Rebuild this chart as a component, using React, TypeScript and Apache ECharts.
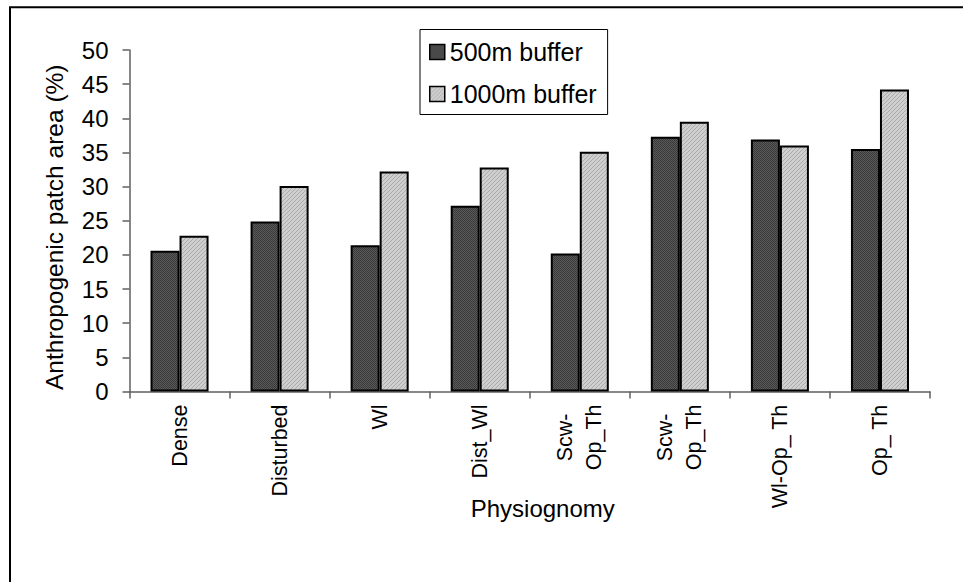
import React, { useEffect, useRef } from 'react';
import * as echarts from 'echarts';

const categories = ['Dense', 'Disturbed', 'Wl', 'Dist_Wl', 'Scw-\nOp_Th', 'Scw-\nOp_Th', 'Wl-Op_ Th', 'Op_ Th'];
const buffer500 = [20.6, 24.9, 21.4, 27.2, 20.2, 37.3, 36.9, 35.5];
const buffer1000 = [22.8, 30.1, 32.2, 32.8, 35.1, 39.5, 36.0, 44.2];
const seriesNames = ['500m buffer', '1000m buffer'];
const yMin = 0;
const yMax = 50;
const yInterval = 5;
const xTitle = 'Physiognomy';
const yTitle = 'Anthropogenic patch area (%)';

const FONT = '"Liberation Sans", Arial, sans-serif';

function makePattern(kind: 'dark' | 'light') {
  const c = document.createElement('canvas');
  if (kind === 'dark') {
    c.width = 2;
    c.height = 2;
    const ctx = c.getContext('2d')!;
    ctx.fillStyle = '#5a5a5a';
    ctx.fillRect(0, 0, 2, 2);
    ctx.fillStyle = '#393939';
    ctx.fillRect(0, 0, 1, 1);
    ctx.fillRect(1, 1, 1, 1);
  } else {
    c.width = 4;
    c.height = 4;
    const ctx = c.getContext('2d')!;
    ctx.fillStyle = '#cfcfcf';
    ctx.fillRect(0, 0, 4, 4);
    ctx.fillStyle = '#ababab';
    for (let i = 0; i < 4; i++) ctx.fillRect(i, 3 - i, 1, 1);
  }
  return { image: c, repeat: 'repeat' } as any;
}

export default function App() {
  const ref = useRef<HTMLDivElement>(null);

  useEffect(() => {
    if (!ref.current) return;
    const chart = echarts.init(ref.current, undefined, { renderer: 'svg' });
    const dark = makePattern('dark');
    const light = makePattern('light');
    const axisColor = '#5f5f5f';

    chart.setOption({
      animation: false,
      backgroundColor: '#ffffff',
      grid: { left: 129.5, right: 33, top: 50, bottom: 190.5, containLabel: false },
      legend: {
        orient: 'vertical',
        left: 420,
        top: 29.5,
        padding: [10, 11, 8, 9],
        itemWidth: 15,
        itemHeight: 15,
        itemGap: 17,
        icon: 'rect',
        borderColor: '#000',
        borderWidth: 1,
        backgroundColor: '#fff',
        textStyle: { fontSize: 25, fontFamily: FONT, color: '#000' },
        itemStyle: { borderColor: '#000', borderWidth: 1.5 },
        data: seriesNames,
      },
      xAxis: {
        type: 'category',
        data: categories,
        name: xTitle,
        nameLocation: 'middle',
        nameGap: 105,
        nameMoveOverlap: false,
        nameTextStyle: { fontSize: 24, fontFamily: FONT, color: '#000', padding: [0, 0, 0, 26] },
        axisLine: { lineStyle: { color: axisColor, width: 1.5 } },
        axisTick: { show: true, length: 7, lineStyle: { color: axisColor, width: 1.5 } },
        axisLabel: {
          interval: 0,
          rotate: 90,
          margin: 13,
          color: '#000',
          fontSize: 21.5,
          fontFamily: FONT,
          lineHeight: 29,
          formatter: (v: string) => v.split('\n').map((l) => `{c|${l}}`).join('\n'),
          rich: {
            c: { align: 'center', fontSize: 21.5, fontFamily: FONT, color: '#000', lineHeight: 29 },
          },
        },
        splitLine: { show: false },
      },
      yAxis: {
        type: 'value',
        min: yMin,
        max: yMax,
        interval: yInterval,
        name: yTitle,
        nameLocation: 'middle',
        nameRotate: 90,
        nameGap: 63,
        nameMoveOverlap: false,
        nameTextStyle: { fontSize: 24.5, fontFamily: FONT, color: '#000', padding: [0, 13, 0, 0] },
        axisLine: { show: true, lineStyle: { color: axisColor, width: 1.5 } },
        axisTick: { show: true, length: 7, lineStyle: { color: axisColor, width: 1.5 } },
        axisLabel: { margin: 21, color: '#000', fontSize: 24, fontFamily: FONT },
        splitLine: { show: false },
      },
      series: [
        {
          name: seriesNames[0],
          type: 'bar',
          data: buffer500,
          barWidth: '29%',
          barGap: '0%',
          itemStyle: { color: dark, borderColor: '#000', borderWidth: 2 },
        },
        {
          name: seriesNames[1],
          type: 'bar',
          data: buffer1000,
          barWidth: '29%',
          barGap: '0%',
          itemStyle: { color: light, borderColor: '#000', borderWidth: 2 },
        },
      ],
      graphic: [
        {
          type: 'rect',
          silent: true,
          shape: { x: 10, y: 7.3, width: 2000, height: 2000 },
          style: { fill: 'none', stroke: '#000', lineWidth: 2 },
        },
      ],
    });

    return () => chart.dispose();
  }, []);

  return (
    <div
      ref={ref}
      style={{ position: 'absolute', left: 0, top: 0, width: 963, height: 582 }}
    />
  );
}
